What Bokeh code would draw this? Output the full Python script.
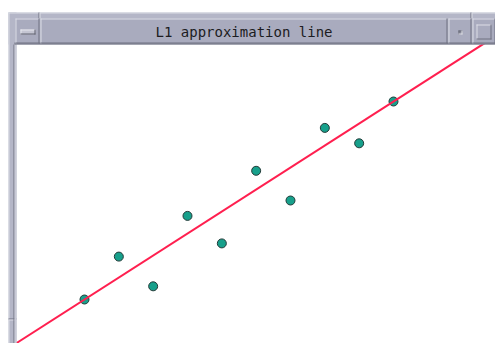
from bokeh.plotting import figure
from bokeh.models import Range1d, Slope
from bokeh.embed import file_html
from bokeh.resources import INLINE
from bokeh.core.properties import value

# ---- data ----
x_vals = [1, 2, 3, 4, 5, 6, 7, 8, 9, 10]
y_vals = [1.0, 2.95, 1.6, 4.8, 3.55, 6.85, 5.5, 8.8, 8.1, 10.0]
fit_slope = 1.0
fit_intercept = 0.0
title_text = "L1 approximation line"

W, H = 495, 343
p = figure(width=W, height=H, output_backend="svg", toolbar_location=None,
           x_range=Range1d(-1.4466, 12.971), y_range=Range1d(-1.0, 14.591),
           x_axis_type=None, y_axis_type=None, min_border=0,
           outline_line_color=None, background_fill_color="white",
           border_fill_color="white")
p.extra_x_ranges = {"px": Range1d(0, W)}
p.extra_y_ranges = {"px": Range1d(H, 0)}

# points and fitted line
p.scatter(x_vals, y_vals, size=9, fill_color="#17a08b", line_color="#233a38",
          line_width=1)
p.add_layout(Slope(gradient=fit_slope, y_intercept=fit_intercept,
                   line_color="#ff1f4f", line_width=2))

# ---- window decoration (page pixel coordinates) ----
L, R, T, B, C = [], [], [], [], []


def box(l, r, t, b, c):
    L.append(l); R.append(r); T.append(t); B.append(b); C.append(c)


FRAME = "#b4b6c7"
BAR = "#a9abbe"
LIGHT = "#dcdde6"
DARK = "#6f7180"


def bevel(l, r, t, b, fill, light=LIGHT, dark=DARK):
    box(l, r, t, b, fill)
    box(l, r, t, t + 1, light)
    box(l, l + 1, t, b, light)
    box(l, r, b - 1, b, dark)
    box(r - 1, r, t, b, dark)


# outer frame strips (top and left)
box(8, 495, 12, 44, FRAME)
box(8, 16, 12, 343, FRAME)
box(8, 495, 12, 13, LIGHT)
box(8, 9, 12, 343, LIGHT)
# notches in top frame
box(38, 39, 12, 18, DARK)
box(39, 40, 12, 18, LIGHT)
box(470, 471, 12, 18, DARK)
box(471, 472, 12, 18, LIGHT)
# notch in left frame
box(8, 16, 318, 319, DARK)
box(8, 16, 319, 320, LIGHT)
# inner edge of left frame
box(13, 14, 44, 343, DARK)
box(14, 16, 44, 343, "#c8c9d6")
# dark line under title bar
box(14, 495, 42, 44, DARK)
# title bar pieces
bevel(15, 39, 18, 43, BAR)
bevel(40, 447, 18, 43, BAR)
bevel(448, 471, 18, 43, BAR)
bevel(472, 495, 18, 43, BAR)
# menu icon
bevel(20, 35, 29, 34, "#c4c5d2", light="#e6e7ee", dark="#5e606e")
# minimize icon
bevel(458, 462, 30, 34, "#8a8c9c", light="#6a6c7a", dark="#e0e1e8")
# maximize icon
bevel(476, 491, 24, 39, BAR)

p.quad(left=L, right=R, top=T, bottom=B, fill_color=C, line_color=None,
       x_range_name="px", y_range_name="px", level="overlay")

p.text(x=[243.5], y=[31], text=[title_text], text_align="center",
       text_baseline="middle", text_font=value("DejaVu Sans Mono"),
       text_font_size="14px", text_color="#1c1c22",
       x_range_name="px", y_range_name="px", level="overlay")

open("out.html", "w").write(file_html(p, INLINE))
